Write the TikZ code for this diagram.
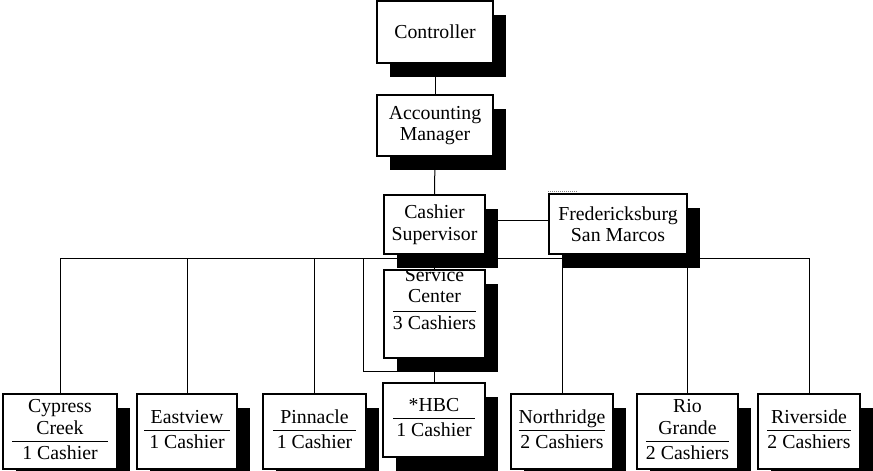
\documentclass[tikz,border=0pt]{standalone}
\usepackage{fontspec}
\setmainfont{Liberation Serif}
\usetikzlibrary{shadows,backgrounds}
\setlength{\arrayrulewidth}{1pt}
% name above a rule, head count below it; optional side padding of the rule
\newcommand{\tier}[3][0pt]{\begin{tabular}{@{\hspace{#1}}c@{\hspace{#1}}}#2\\\hline\rule{0pt}{17.5pt}#3\end{tabular}}
\begin{document}
\begin{tikzpicture}[x=1pt,y=-1pt,
  labelfont/.style={font=\fontsize{19.8}{21.5}\selectfont},
  orgbox/.style={draw=black, fill=white, line width=1.2pt, inner sep=0pt,
    align=center, labelfont,
    drop shadow={shadow xshift=13pt, shadow yshift=-14pt, opacity=1, fill=black}},
  frame/.style={draw=black, line width=1.2pt},
  link/.style={draw=black, line width=1pt}]
\useasboundingbox (0,0) rectangle (873,471);

% management chain
\node[orgbox, minimum width=116pt, minimum height=62pt] (ctrl) at (435,32) {Controller};
\node[orgbox, minimum width=116pt, minimum height=61pt] (acct) at (435,125.5) {Accounting\\Manager};
\node[orgbox, minimum width=101pt, minimum height=59pt] (sup) at (434.5,224.5) {Cashier\\Supervisor};
\node[orgbox, minimum width=138pt, minimum height=60pt] (fred) at (618,224) {Fredericksburg\\San Marcos};

% service center, its text runs past the top edge and is cut off there
\node[orgbox, minimum width=101pt, minimum height=88pt] (svc) at (434.5,314) {};
\begin{scope}
  \clip (svc.north west) rectangle (svc.south east);
  \node[inner sep=0pt, labelfont] (svctext) at (434.5,301)
    {\begin{tabular}{@{}c@{}}Service\\Center\\[2pt]\hline\rule{0pt}{17.5pt}3 Cashiers\end{tabular}};
\end{scope}
\draw[frame] (svc.north west) rectangle (svc.south east);

\node[orgbox, minimum width=102pt, minimum height=74pt] (hbc) at (434,420) {\tier[3pt]{*HBC}{1 Cashier}};

% branch offices
\node[orgbox, minimum width=114pt, minimum height=75pt] (cyp) at (60,431.5) {\tier[10pt]{Cypress\\Creek}{1 Cashier}};
\node[orgbox, minimum width=100pt, minimum height=75pt] (east) at (187,431.5) {\tier[5pt]{Eastview}{1 Cashier}};
\node[orgbox, minimum width=103pt, minimum height=75pt] (pinn) at (314.5,431.5) {\tier[4pt]{Pinnacle}{1 Cashier}};
\node[orgbox, minimum width=102pt, minimum height=75pt] (north) at (562,431.5) {\tier{Northridge}{2 Cashiers}};
\node[orgbox, minimum width=101pt, minimum height=75pt] (rio) at (687.5,431.5) {\tier{Rio\\Grande}{2 Cashiers}};
\node[orgbox, minimum width=102pt, minimum height=75pt] (riv) at (809,431.5) {\tier{Riverside}{2 Cashiers}};

\coordinate (bus) at (0,258);
\coordinate (jog) at (363,371);

% dotted mark over the Fredericksburg box
\draw[gray, line width=1pt, dash pattern=on 1pt off 1pt]
  ([yshift=2pt]fred.north west) -- ++(30,0);

\begin{pgfonlayer}{background}
  \draw[link] (ctrl.south) -- (acct.north);
  \draw[link] (acct.south) -- (sup.north);
  \draw[link] (sup.south) -- (svc.north);
  \draw[link] (sup.east |- 0,220) -- (fred.west |- 0,220);
  \draw[link] (cyp.north) -- (cyp.north |- bus) -- (riv.north |- bus) -- (riv.north);
  \draw[link] (east.north) -- (east.north |- bus);
  \draw[link] (pinn.north) -- (pinn.north |- bus);
  \draw[link] (north.north) -- (north.north |- bus);
  \draw[link] (rio.north) -- (rio.north |- bus);
  \draw[link] (jog |- bus) -- (jog) -- (jog -| hbc.north) -- (hbc.north);
\end{pgfonlayer}
\end{tikzpicture}
\end{document}
